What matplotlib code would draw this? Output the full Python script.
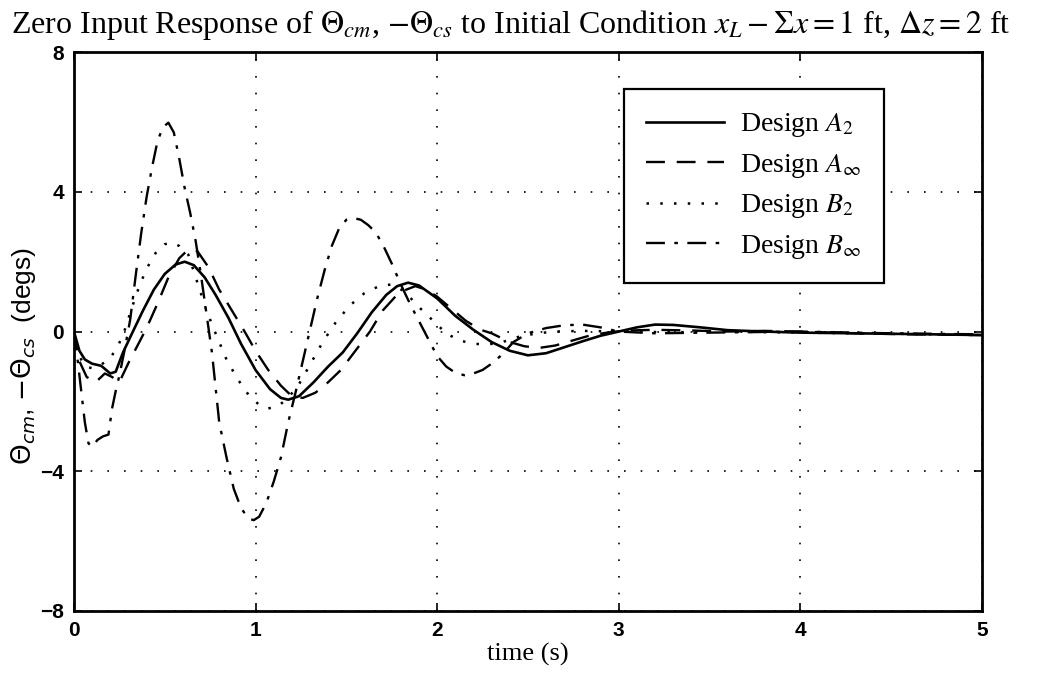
import matplotlib
matplotlib.use("Agg")
import matplotlib.pyplot as plt

plt.rcParams["mathtext.fontset"] = "stix"

# Design A2 (solid)
t_a2 = [0, 0.03, 0.06, 0.1, 0.15, 0.2, 0.23, 0.27, 0.32, 0.38, 0.44, 0.5, 0.56, 0.61,
        0.66, 0.72, 0.78, 0.85, 0.92, 1.0, 1.08, 1.14, 1.18, 1.24, 1.32, 1.4, 1.48, 1.56,
        1.64, 1.72, 1.78, 1.84, 1.9, 2.0, 2.1, 2.2, 2.3, 2.4, 2.5, 2.6, 2.7, 2.8, 2.9,
        3.0, 3.1, 3.2, 3.3, 3.45, 3.6, 3.8, 4.0, 4.3, 4.6, 5.0]
y_a2 = [0, -0.55, -0.8, -0.92, -0.98, -1.2, -1.15, -0.6, -0.05, 0.6, 1.2, 1.65, 1.92, 2.0,
        1.9, 1.55, 1.05, 0.4, -0.35, -1.1, -1.65, -1.9, -1.95, -1.85, -1.45, -1.0, -0.6, -0.05,
        0.55, 1.05, 1.3, 1.4, 1.32, 0.95, 0.45, 0.05, -0.3, -0.55, -0.68, -0.62, -0.45, -0.28, -0.12,
        0.0, 0.12, 0.2, 0.19, 0.12, 0.04, 0.0, -0.03, -0.05, -0.07, -0.1]

# Design A_inf (dashed)
t_ai = [0, 0.03, 0.07, 0.12, 0.17, 0.21, 0.25, 0.3, 0.35, 0.4, 0.46, 0.52, 0.58, 0.63,
        0.68, 0.74, 0.8, 0.87, 0.94, 1.0, 1.07, 1.14, 1.2, 1.26, 1.33, 1.4, 1.47, 1.55,
        1.63, 1.7, 1.77, 1.83, 1.88, 1.94, 2.0, 2.08, 2.16, 2.24, 2.3, 2.4, 2.48, 2.56,
        2.65, 2.75, 2.85, 2.95, 3.05, 3.2, 3.4, 3.6, 3.8, 4.0, 4.3, 4.6, 5.0]
y_ai = [0, -0.85, -1.3, -1.45, -1.2, -1.3, -1.45, -0.9, -0.4, 0.1, 0.8, 1.55, 2.1, 2.35,
        2.3, 1.85, 1.2, 0.6, 0.0, -0.55, -1.1, -1.55, -1.85, -1.9, -1.75, -1.45, -1.1, -0.55,
        0.0, 0.6, 1.0, 1.2, 1.3, 1.2, 1.0, 0.65, 0.3, 0.05, -0.05, -0.3, -0.42, -0.47,
        -0.4, -0.25, -0.1, -0.02, 0.03, 0.05, 0.03, 0.0, 0.02, 0.0, -0.05, -0.08, -0.1]

# Design B2 (dotted)
t_b2 = [0, 0.03, 0.06, 0.1, 0.15, 0.2, 0.24, 0.28, 0.32, 0.36, 0.4, 0.45, 0.5, 0.54,
        0.58, 0.63, 0.68, 0.73, 0.78, 0.84, 0.9, 0.96, 1.02, 1.07, 1.12, 1.18, 1.24, 1.3,
        1.37, 1.44, 1.52, 1.6, 1.68, 1.75, 1.82, 1.9, 1.97, 2.05, 2.12, 2.2, 2.28, 2.36,
        2.45, 2.55, 2.65, 2.8, 3.0, 3.3, 3.6, 4.0, 4.5, 5.0]
y_b2 = [0, -0.7, -1.0, -1.05, -0.95, -0.75, -0.45, 0.05, 0.7, 1.3, 1.8, 2.25, 2.5, 2.55,
        2.45, 2.2, 1.4, 0.6, -0.05, -0.8, -1.35, -1.8, -2.1, -2.2, -2.15, -1.9, -1.5, -0.95,
        -0.3, 0.25, 0.75, 1.1, 1.3, 1.35, 1.15, 0.7, 0.35, -0.05, -0.25, -0.35, -0.37, -0.3,
        -0.15, -0.05, 0.0, 0.02, 0.0, -0.02, 0.0, -0.03, -0.06, -0.1]

# Design B_inf (dash-dot)
t_bi = [0, 0.02, 0.04, 0.06, 0.08, 0.1, 0.13, 0.16, 0.19, 0.21, 0.23, 0.25, 0.28, 0.31,
        0.34, 0.37, 0.4, 0.43, 0.46, 0.49, 0.52, 0.55, 0.58, 0.61, 0.64, 0.67, 0.7, 0.73,
        0.76, 0.8, 0.84, 0.88, 0.92, 0.96, 0.99, 1.02, 1.06, 1.1, 1.14, 1.18, 1.22, 1.26,
        1.3, 1.34, 1.38, 1.42, 1.46, 1.5, 1.54, 1.58, 1.62, 1.66, 1.7, 1.75, 1.8, 1.85,
        1.9, 1.95, 2.0, 2.05, 2.1, 2.15, 2.2, 2.25, 2.3, 2.36, 2.42, 2.5, 2.6, 2.7, 2.8,
        2.9, 3.0, 3.2, 3.5, 4.0, 4.5, 5.0]
y_bi = [0, -0.8, -1.7, -2.6, -3.2, -3.3, -3.1, -3.0, -2.95, -2.2, -1.7, -1.26, -0.5, 0.35,
        1.6, 2.8, 3.85, 4.7, 5.45, 5.85, 5.98, 5.7, 4.95, 4.1, 3.4, 2.6, 1.6, 0.5,
        -0.6, -2.6, -3.6, -4.5, -5.05, -5.35, -5.4, -5.3, -4.9, -4.3, -3.6, -2.6, -1.75, -0.85,
        0.05, 0.95, 1.75, 2.45, 2.95, 3.2, 3.25, 3.2, 3.05, 2.85, 2.5, 1.95, 1.35, 0.8,
        0.3, -0.2, -0.7, -1.0, -1.18, -1.25, -1.2, -1.1, -0.92, -0.65, -0.3, -0.05, 0.1, 0.18, 0.2,
        0.12, 0.0, -0.05, -0.03, 0.0, -0.05, -0.08]

labels = ["Design $A_2$", "Design $A_\\infty$", "Design $B_2$", "Design $B_\\infty$"]
xticks = [0, 1, 2, 3, 4, 5]
yticks = [-8, -4, 0, 4, 8]

fig = plt.figure(figsize=(10.49, 6.77), dpi=100)
ax = fig.add_axes([0.0705, 0.0975, 0.8655, 0.8255])

ax.plot(t_a2, y_a2, color="black", lw=1.9, linestyle="-", label=labels[0])
ax.plot(t_ai, y_ai, color="black", lw=1.7, linestyle=(0, (8, 5)), label=labels[1])
ax.plot(t_b2, y_b2, color="black", lw=1.8, linestyle=(0, (1, 4.5)), label=labels[2])
ax.plot(t_bi, y_bi, color="black", lw=1.7, linestyle=(0, (8, 4, 1.5, 4)), label=labels[3])

ax.set_xlim(0, 5)
ax.set_ylim(-8, 8)
ax.set_xticks(xticks)
ax.set_yticks(yticks)
ax.tick_params(direction="in", top=True, right=True, length=6, width=1.2,
               labelsize=15, pad=7)
for lab in ax.get_xticklabels() + ax.get_yticklabels():
    lab.set_family("Liberation Sans")
    lab.set_fontweight("bold")
ax.grid(True, color="black", linestyle=(0, (1, 9)), linewidth=1.2)
for s in ax.spines.values():
    s.set_linewidth(2.0)

ax.set_title("Zero Input Response of $\\Theta_{cm}$, $-\\Theta_{cs}$ to Initial Condition "
             "$x_L - \\Sigma x = 1$ ft, $\\Delta z = 2$ ft",
             family="Liberation Serif", fontsize=23, pad=14, x=0.481)
ax.set_xlabel("time (s)", family="Liberation Serif", fontsize=19, labelpad=2)
ax.set_ylabel("$\\Theta_{cm}$, $-\\Theta_{cs}$  (degs)",
              family="Liberation Sans", fontsize=19,
              math_fontfamily="dejavusans")
ax.yaxis.set_label_coords(-0.04, 0.456)

leg = ax.legend(loc="upper right", bbox_to_anchor=(0.892, 0.934), borderaxespad=0,
                fancybox=False, framealpha=1, edgecolor="black", handlelength=2.8,
                borderpad=0.8, labelspacing=0.45, handletextpad=0.6,
                prop={"family": "Liberation Serif", "size": 20})
leg.get_frame().set_linewidth(1.6)

fig.savefig("out.png", dpi=100)
